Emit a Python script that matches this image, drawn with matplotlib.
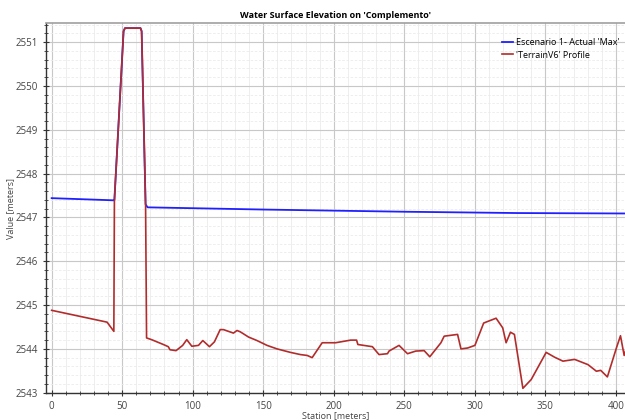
import matplotlib
matplotlib.use("Agg")
import matplotlib.pyplot as plt
from matplotlib.ticker import MultipleLocator

plt.rcParams["font.family"] = ["Open Sans", "DejaVu Sans"]

# --- Dane ---
terrain_station = [0, 39.3, 44.1, 44.5, 51.0, 52.0, 63.0, 63.8, 66.6, 67.3, 70.9,
                   79.2, 82.7, 83.9, 88.2, 92.9, 95.8, 99.4, 104.1, 107.2, 111.9,
                   115.4, 119.5, 121.8, 128.9, 131.4, 133.7, 139.6, 145.6, 152.7,
                   159.8, 169.3, 176.4, 181.2, 184.7, 191.8, 201.3, 212.0, 216.2,
                   217.1, 227.4, 232.1, 238.1, 239.2, 246.3, 252.3, 258.2, 264.1,
                   268.1, 276.0, 278.3, 287.8, 290.2, 294.9, 300.1, 306.3, 315.1,
                   319.8, 322.2, 325.3, 328.1, 334.1, 340.0, 350.6, 356.6, 362.5,
                   370.8, 380.3, 386.2, 389.3, 394.0, 400.4, 403.3, 405.9, 407.5]
terrain_elev = [2544.88, 2544.61, 2544.40, 2547.40, 2551.25, 2551.32, 2551.32, 2551.25,
                2547.30, 2544.25, 2544.21, 2544.10, 2544.05, 2543.98, 2543.96, 2544.08,
                2544.21, 2544.06, 2544.08, 2544.19, 2544.05, 2544.16, 2544.44, 2544.44,
                2544.36, 2544.42, 2544.39, 2544.27, 2544.19, 2544.08, 2544.00, 2543.92,
                2543.87, 2543.85, 2543.80, 2544.14, 2544.14, 2544.20, 2544.20, 2544.10,
                2544.05, 2543.87, 2543.89, 2543.95, 2544.08, 2543.89, 2543.95, 2543.96,
                2543.82, 2544.14, 2544.29, 2544.33, 2544.00, 2544.02, 2544.08, 2544.59,
                2544.70, 2544.48, 2544.14, 2544.38, 2544.33, 2543.10, 2543.30, 2543.92,
                2543.81, 2543.72, 2543.76, 2543.64, 2543.49, 2543.51, 2543.36, 2544.02,
                2544.30, 2543.85, 2544.02]

ws_station = [0, 44.3, 44.5, 51.0, 52.0, 63.0, 63.8, 66.6, 68.0, 150, 250, 330, 407.5]
ws_elev = [2547.44, 2547.39, 2547.40, 2551.25, 2551.32, 2551.32, 2551.25, 2547.30,
           2547.23, 2547.18, 2547.13, 2547.10, 2547.09]

# --- Wykres ---
fig = plt.figure(figsize=(6.25, 4.2), dpi=100)
ax = fig.add_axes([0.0736, 0.065, 0.9264, 0.8795])

ax.plot(ws_station, ws_elev, color="#2020ff", lw=1.3, label="Escenario 1- Actual 'Max'")
ax.plot(terrain_station, terrain_elev, color="#b22c2c", lw=1.2, label="'TerrainV6' Profile")

ax.set_xlim(-4, 406.5)
ax.set_ylim(2543.0, 2551.43)
ax.xaxis.set_major_locator(MultipleLocator(50))
ax.xaxis.set_minor_locator(MultipleLocator(10))
ax.yaxis.set_major_locator(MultipleLocator(1))
ax.yaxis.set_minor_locator(MultipleLocator(0.2))

ax.grid(which="major", color="#c8c8c8", lw=0.8)
ax.grid(which="minor", axis="x", color="#ebebeb", lw=0.6)
ax.grid(which="minor", axis="y", color="#ebebeb", lw=0.6, ls=(0, (3, 2)))
ax.set_axisbelow(True)

for s in ["left", "bottom"]:
    ax.spines[s].set_color("#333333")
    ax.spines[s].set_linewidth(1.0)
ax.spines["top"].set_color("#a0a0a0")
ax.spines["top"].set_linewidth(1.2)
ax.spines["right"].set_visible(False)

ax.tick_params(which="major", direction="inout", length=5, width=0.8, labelsize=7,
               colors="#333333", labelcolor="#444444")
ax.tick_params(which="minor", direction="inout", length=3, width=0.6, colors="#333333")

ax.set_xlabel("Station [meters]", fontsize=6.5, color="#444444", labelpad=-1)
ax.set_ylabel("Value [meters]", fontsize=6.5, color="#444444", labelpad=0)
ax.set_title("Water Surface Elevation on 'Complemento'", fontsize=6.5,
             fontweight="bold", pad=4)

ax.legend(loc="upper right", bbox_to_anchor=(1.0, 0.975), frameon=False,
          fontsize=6.5, handlelength=1.3, handletextpad=0.3, labelspacing=0.4,
          borderaxespad=0.2)

fig.savefig("out.png", dpi=100)
